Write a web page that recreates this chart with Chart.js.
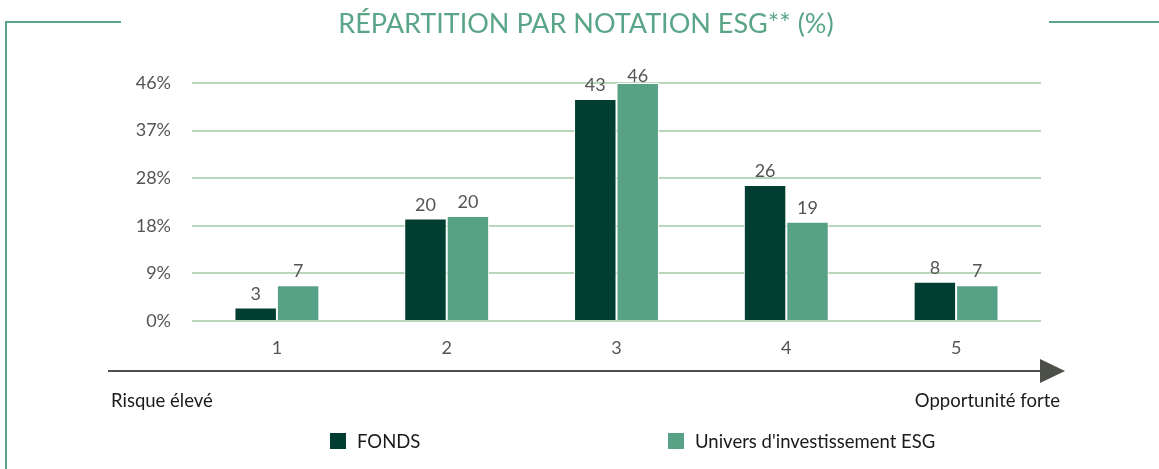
<!DOCTYPE html>
<html><head><meta charset="utf-8">
<script src="https://cdn.jsdelivr.net/npm/chart.js@4.4.1/dist/chart.umd.min.js"></script>
<style>
html,body{margin:0;padding:0;background:#fff;}
#wrap{position:relative;width:1159px;height:469px;}
canvas{position:absolute;left:0;top:0;}
</style></head>
<body>
<div id="wrap"><canvas id="c" width="1159" height="469"></canvas></div>
<script>
const categories = ['1','2','3','4','5'];
const fonds = [2.6, 19.8, 42.9, 26.3, 7.6];
const univers = [6.9, 20.3, 46, 19.2, 6.9];
const seriesNames = ['FONDS', "Univers d'investissement ESG"];
const title = 'RÉPARTITION PAR NOTATION ESG** (%)';
const leftNote = 'Risque élevé';
const rightNote = 'Opportunité forte';
const yMax = 46, yStep = 9.2;

const DARK = '#023d31', LIGHT = '#57a286', FRAME = '#5aa587', GRID = '#bad7bc';
const FONT = 'Lato, "Open Sans", sans-serif';

const decor = {
  id: 'decor',
  afterDraw(chart) {
    const ctx = chart.ctx;
    ctx.save();
    // frame
    ctx.strokeStyle = FRAME; ctx.lineWidth = 2;
    ctx.beginPath();
    ctx.moveTo(6, 469); ctx.lineTo(6, 22); ctx.lineTo(121, 22);
    ctx.moveTo(1049, 22); ctx.lineTo(1159, 22);
    ctx.stroke();
    // title
    ctx.fillStyle = FRAME; ctx.font = '27px ' + FONT;
    ctx.textAlign = 'center'; ctx.textBaseline = 'middle';
    ctx.fillText(title, 586, 24);
    // data labels
    ctx.fillStyle = '#555555'; ctx.font = '18px ' + FONT;
    ctx.textBaseline = 'alphabetic';
    chart.data.datasets.forEach((ds, i) => {
      chart.getDatasetMeta(i).data.forEach((bar, j) => {
        ctx.fillText(String(Math.round(ds.data[j])), bar.x, Math.max(bar.y - 8, 82));
      });
    });
    // arrow
    ctx.strokeStyle = '#4d4f49'; ctx.fillStyle = '#4d4f49'; ctx.lineWidth = 2;
    ctx.beginPath(); ctx.moveTo(108, 371); ctx.lineTo(1042, 371); ctx.stroke();
    ctx.beginPath(); ctx.moveTo(1040, 359); ctx.lineTo(1065, 371); ctx.lineTo(1040, 383); ctx.closePath(); ctx.fill();
    // notes
    ctx.fillStyle = '#1a1a1a'; ctx.font = '18.5px ' + FONT; ctx.textBaseline = 'middle';
    ctx.textAlign = 'left'; ctx.fillText(leftNote, 111, 401);
    ctx.textAlign = 'right'; ctx.fillText(rightNote, 1060, 401);
    // legend
    const items = [[330, DARK, seriesNames[0]], [668, LIGHT, seriesNames[1]]];
    ctx.textAlign = 'left'; ctx.font = '18.5px ' + FONT;
    items.forEach(([x, col, name]) => {
      ctx.fillStyle = col; ctx.fillRect(x, 433, 16, 16);
      ctx.fillStyle = '#1a1a1a'; ctx.fillText(name, x + 27, 442);
    });
    ctx.restore();
  }
};

new Chart(document.getElementById('c'), {
  type: 'bar',
  data: {
    labels: categories,
    datasets: [
      { label: seriesNames[0], data: fonds, backgroundColor: DARK, borderColor: '#ffffff', borderWidth: 1, categoryPercentage: 0.5, barPercentage: 1 },
      { label: seriesNames[1], data: univers, backgroundColor: LIGHT, borderColor: '#ffffff', borderWidth: 1, categoryPercentage: 0.5, barPercentage: 1 }
    ]
  },
  options: {
    responsive: false, animation: false,
    layout: { padding: { left: 0, right: 118, top: 83, bottom: 108 } },
    plugins: { legend: { display: false }, tooltip: { enabled: false }, title: { display: false } },
    scales: {
      x: {
        grid: { display: false, drawTicks: false },
        border: { display: false },
        ticks: { color: '#555555', font: { family: FONT, size: 18 }, padding: 16 },
        afterFit(s) { s.height = 40; }
      },
      y: {
        min: 0, max: yMax,
        grid: { color: GRID, lineWidth: 2, drawTicks: false },
        border: { display: false },
        ticks: { stepSize: yStep, color: '#555555', font: { family: FONT, size: 18 }, padding: 21,
          callback: v => Math.round(v) + '%' },
        afterFit(s) { s.width = 192; }
      }
    }
  },
  plugins: [decor]
});
</script>
</body></html>
